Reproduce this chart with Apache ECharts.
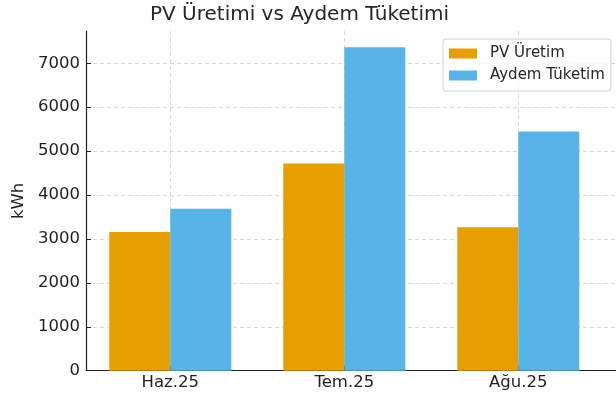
<!DOCTYPE html>
<html>
<head>
<meta charset="utf-8">
<script src="https://cdn.jsdelivr.net/npm/echarts@6/dist/echarts.min.js"></script>
<style>html,body{margin:0;padding:0;background:#fff}#c{width:616px;height:400px}</style>
</head>
<body>
<div id="c"></div>
<script>
const categories = ['Haz.25', 'Tem.25', 'Ağu.25'];
const pvUretim = [3160, 4720, 3265];
const aydemTuketim = [3685, 7365, 5445];
const yTicks = [0, 1000, 2000, 3000, 4000, 5000, 6000, 7000];

const FONT = 'DejaVu Sans';
const chart = echarts.init(document.getElementById('c'), null, {renderer: 'canvas'});
const idx = categories.map((_, i) => i);
chart.setOption({
  animation: false,
  title: {
    text: 'PV Üretimi vs Aydem Tüketimi',
    left: 150, top: 5, padding: 0,
    textStyle: {fontFamily: FONT, fontSize: 20, fontWeight: 'normal', color: '#262626'}
  },
  legend: {
    orient: 'vertical', left: 443, top: 39,
    padding: [7, 6, 8, 6],
    icon: 'rect',
    itemWidth: 28, itemHeight: 10, itemGap: 7,
    backgroundColor: 'rgba(255,255,255,0.8)',
    borderColor: '#d0d0d0', borderWidth: 1, borderRadius: 3,
    textStyle: {fontFamily: FONT, fontSize: 15, color: '#262626', padding: [0, 0, 0, 8]},
    data: ['PV Üretim', 'Aydem Tüketim']
  },
  grid: {left: 86, right: 0, top: 31, bottom: 29.3, containLabel: false},
  xAxis: {
    type: 'value',
    min: -0.4845, max: 2.5615,
    axisLine: {show: true, lineStyle: {color: '#222', width: 1.2}},
    axisTick: {show: true, inside: true, length: 5, customValues: idx, lineStyle: {color: '#222'}},
    axisLabel: {customValues: idx, formatter: v => categories[Math.round(v)] || '', margin: 4,
      fontFamily: FONT, fontSize: 16.5, color: '#1f1f1f'},
    splitLine: {show: true, lineStyle: {color: '#cfcfcf', type: [4, 3], width: 0.8}}
  },
  yAxis: {
    type: 'value', min: 0, max: 7735,
    name: 'kWh', nameLocation: 'middle', nameGap: 48, nameRotate: 90,
    nameTextStyle: {fontFamily: FONT, fontSize: 16.5, color: '#1f1f1f'},
    axisLine: {show: true, onZero: false, lineStyle: {color: '#222', width: 1.2}},
    axisTick: {show: true, inside: true, length: 5, customValues: yTicks, lineStyle: {color: '#222'}},
    axisLabel: {customValues: yTicks, formatter: v => String(v), margin: 6, fontFamily: FONT, fontSize: 16.5, color: '#1f1f1f'},
    splitLine: {show: true, lineStyle: {color: '#cfcfcf', type: [4, 3], width: 0.8}}
  },
  series: [
    {name: 'PV Üretim', type: 'bar', barWidth: 61, barGap: '0%',
     itemStyle: {color: '#E69F00'}, data: pvUretim.map((v, i) => [i, v])},
    {name: 'Aydem Tüketim', type: 'bar', barWidth: 61, barGap: '0%',
     itemStyle: {color: '#56B4E9'}, data: aydemTuketim.map((v, i) => [i, v])}
  ]
});
</script>
</body>
</html>
